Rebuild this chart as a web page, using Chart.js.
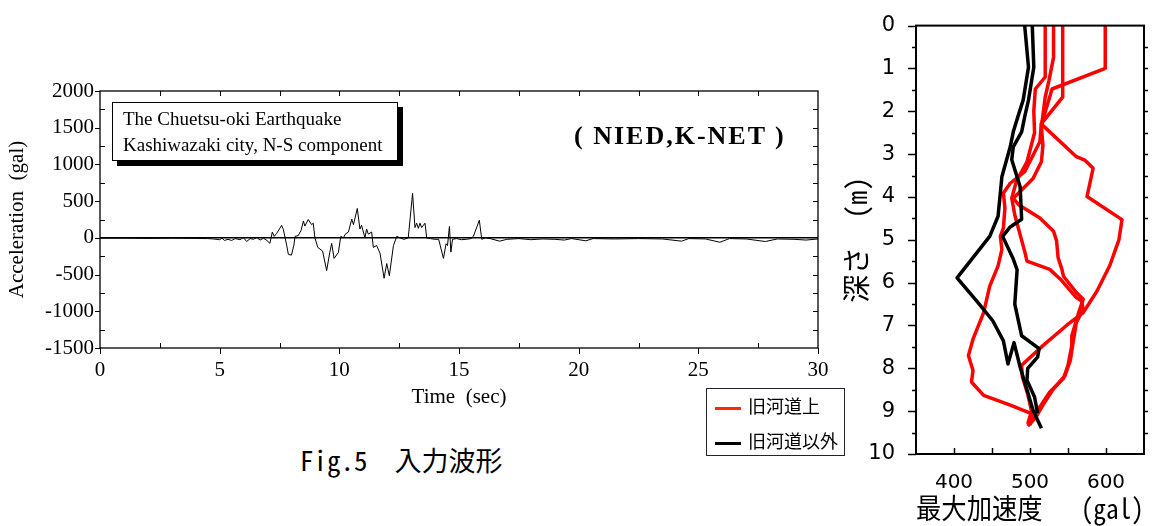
<!DOCTYPE html>
<html><head><meta charset="utf-8">
<script src="https://cdn.jsdelivr.net/npm/chart.js@4.4.1/dist/chart.umd.min.js"></script>
<style>
html,body{margin:0;padding:0;background:#fff;}
#page{position:relative;width:1168px;height:526px;overflow:hidden;background:#fff;}
#w1{position:absolute;left:0;top:0;width:845px;height:430px;}
#w2{position:absolute;left:840px;top:0;width:328px;height:526px;}
.note{position:absolute;left:112px;top:102px;width:286px;height:59px;border:1.5px solid #000;background:#fff;box-shadow:5px 5px 0 #000;font-family:"Liberation Serif","Times New Roman",serif;font-size:19px;line-height:26px;padding:3px 0 0 10px;box-sizing:border-box;color:#000;white-space:nowrap;}
.src{position:absolute;left:574px;top:121px;font-family:"Liberation Serif",serif;font-weight:bold;font-size:26px;letter-spacing:2px;color:#000;white-space:pre;}
.cap{position:absolute;left:300px;top:440px;font-family:"Noto Sans Mono CJK JP","Noto Sans CJK JP",monospace;font-size:27px;color:#000;white-space:pre;}
.leg{position:absolute;left:706px;top:388px;width:139px;height:68px;border:1px solid #223;box-sizing:border-box;font-family:"Noto Sans CJK JP",sans-serif;font-size:18px;color:#000;}
.leg .row{position:absolute;left:0;height:24px;line-height:24px;white-space:nowrap;}
.leg .sw{display:inline-block;width:26px;height:3px;margin:0 7px 0 8px;vertical-align:middle;}
</style></head>
<body><div id="page">
<div id="w1"><canvas id="c1"></canvas></div>
<div id="w2"><canvas id="c2"></canvas></div>
<div class="note">The Chuetsu-oki Earthquake<br>Kashiwazaki city, N-S component</div>
<div class="src">( NIED,K-NET )</div>
<div class="leg">
 <div class="row" style="top:4px"><span class="sw" style="background:#ff2a00"></span>旧河道上</div>
 <div class="row" style="top:39px"><span class="sw" style="background:#000"></span>旧河道以外</div>
</div>
<div class="cap">Fig.5　入力波形</div>
</div>
<script>
// ---- Left chart: input acceleration waveform ----
const timeSec = [0,1,2,3,4,4.5,4.73,5.0,5.1,5.2,5.35,5.5,5.65,5.85,5.99,6.13,6.27,6.41,6.55,6.69,6.83,6.97,7.1,7.2,7.28,7.38,7.59,7.66,7.8,7.87,8.0,8.1,8.15,8.28,8.4,8.5,8.56,8.7,8.84,8.91,8.98,9.1,9.3,9.47,9.6,9.68,9.78,9.96,10.06,10.17,10.25,10.38,10.52,10.59,10.75,10.86,10.93,11.07,11.14,11.21,11.35,11.42,11.56,11.7,11.87,11.98,12.09,12.26,12.4,12.54,12.7,12.88,13.06,13.16,13.23,13.3,13.37,13.44,13.58,13.65,13.8,14.0,14.15,14.35,14.46,14.52,14.6,14.66,14.73,14.9,15.1,15.3,15.5,15.6,15.85,15.95,16.1,16.3,16.7,17.0,17.5,18.0,18.5,19.0,19.4,19.7,20.3,20.6,21.5,22.5,23.5,24.3,24.6,25.3,25.9,26.3,27.0,27.8,28.3,29.0,29.5,30];
const accGal  = [-5,-5,-8,-5,-8,-10,-15,-25,-5,-35,-20,-35,-10,-25,5,-50,-10,-20,5,-30,-5,-35,-75,80,20,60,170,115,-100,-225,-235,-100,20,30,100,230,160,250,180,200,0,-130,-180,-445,-200,-75,-280,-200,20,0,50,80,255,180,400,120,170,0,120,50,80,-130,-105,-210,-550,-350,-515,-105,20,0,-20,0,605,140,200,130,200,140,200,0,-10,-20,-20,-280,-80,-105,155,-195,-20,-10,-25,-20,-10,20,240,-20,0,-10,-45,-20,-10,-25,-15,-20,-30,-10,-40,-10,-15,-10,-15,-45,-10,-15,-60,-10,-15,-50,-15,-20,-30,-15];
const timeTicks = [0,5,10,15,20,25,30];
const accTicks = [-1500,-1000,-500,0,500,1000,1500,2000];

// ---- Right chart: peak acceleration vs depth ([gal, m]) ----
const red1 = [[520,0],[520,1.2],[507,1.48],[505,2.0],[506,2.5],[496,3.18],[482,3.64],[476,4.03],[480,4.42],[487,4.88],[493,5.27],[496,5.5],[526,5.69],[540,5.92],[561,6.35],[568,6.43],[570,6.62],[561,6.93],[555,7.59],[553,7.82],[546,8.17],[530,8.5],[517,8.86],[507,9.16],[497,9.35]];
const red2 = [[531,0],[531,0.74],[525,1.28],[520,1.67],[515,2.37],[517,2.79],[515,3.18],[504,3.57],[487,3.87],[478,4.03],[485,4.18],[513,4.49],[531,4.8],[535,5.03],[537,5.42],[542,5.69],[544,5.85],[561,6.23],[570,6.39],[564,6.7],[555,7.24],[555,7.47],[550,7.93],[544,8.24],[526,8.55],[513,8.9],[504,9.1],[500,9.33]];
const red3 = [[543,0],[543,1.67],[515,2.29],[513,2.71],[493,3.41],[474,3.68],[465,3.91],[467,4.26],[465,4.73],[461,4.92],[463,5.23],[458,5.61],[447,6.08],[439,6.7],[425,7.32],[419,7.7],[425,8.05],[423,8.32],[439,8.63],[474,8.86],[502,9.06]];
const red4 = [[599,0],[599,1.0],[529,1.48],[522,1.9],[515,2.3],[561,3.06],[572,3.14],[583,3.33],[575,3.99],[621,4.53],[617,5.0],[605,5.6],[588,6.2],[570,6.7],[548,7.0],[517,7.47],[489,7.93],[490,8.2],[497,8.6],[502,9.0],[497,9.3]];
const black1 = [[493,0],[498,0.97],[491,1.74],[484,2.13],[478,2.48],[474,2.83],[463,3.53],[458,4.45],[447,4.92],[404,5.89],[430,6.43],[451,6.89],[465,7.36],[471,7.9],[479,7.4],[487,7.97],[496,8.5],[504,8.98],[515,9.4]];
const black2 = [[503,0],[505,0.97],[498,1.74],[493,2.13],[489,2.48],[478,2.83],[476,3.13],[487,3.76],[489,4.52],[474,4.7],[464,4.92],[478,5.45],[483,5.7],[480,6.5],[489,7.24],[512,7.54],[510,7.74],[497,8.0],[496,8.28],[506,8.67],[510,9.05]];
const peakTicks = [400,500,600];
const depthTicks = [0,1,2,3,4,5,6,7,8,9,10];

// frame + tick marks drawn through the chart's scales
const frameTicks = {
  id:'frameTicks',
  afterDatasetsDraw(chart, args, o){
    const {ctx, chartArea:a, scales} = chart;
    ctx.save();
    ctx.strokeStyle = '#000';
    ctx.lineWidth = o.tickWidth || 1;
    (o.marks||[]).forEach(m=>{
      const sc = scales[m.scale];
      m.values.forEach(v=>{
        const p = Math.round(sc.getPixelForValue(v))+0.5;
        ctx.beginPath();
        if(m.side==='bottom'){ctx.moveTo(p,a.bottom);ctx.lineTo(p,a.bottom+m.len);}
        if(m.side==='top'){ctx.moveTo(p,a.top);ctx.lineTo(p,a.top-m.len);}
        if(m.side==='left'){ctx.moveTo(a.left,p);ctx.lineTo(a.left-m.len,p);}
        if(m.side==='right'){ctx.moveTo(a.right,p);ctx.lineTo(a.right+m.len,p);}
        ctx.stroke();
      });
    });
    ctx.lineWidth = o.frameWidth || 1;
    ctx.strokeRect(a.left, a.top, a.right-a.left, a.bottom-a.top);
    ctx.restore();
  }
};

const serif = '"Liberation Serif","Times New Roman",serif';
const plain = v => String(v);

new Chart(document.getElementById('c1'), {
  type:'scatter',
  data:{datasets:[{
    data: timeSec.map((t,i)=>({x:t,y:accGal[i]})),
    showLine:true, borderColor:'#000', borderWidth:1, pointRadius:0, tension:0
  }]},
  options:{
    responsive:true, maintainAspectRatio:false, animation:false,
    layout:{padding:{left:0,top:91,right:27,bottom:0}},
    plugins:{legend:{display:false},tooltip:{enabled:false},
      frameTicks:{frameWidth:1.3,tickWidth:1,marks:[
        {scale:'x',side:'bottom',values:[0,5,10,15,20,25,30],len:6},
        {scale:'x',side:'bottom',values:[2.5,7.5,12.5,17.5,22.5,27.5],len:-5},
        {scale:'x',side:'top',values:[2.5,5,7.5,10,12.5,15,17.5,20,22.5,25,27.5],len:-5},
        {scale:'y',side:'left',values:[-1500,-1000,-500,0,500,1000,1500,2000],len:5},
        {scale:'y',side:'left',values:[-1250,-750,-250,250,750,1250,1750],len:-5},
        {scale:'y',side:'right',values:[-1250,-1000,-750,-500,-250,250,500,750,1000,1250,1500,1750],len:-5}
      ]}},
    scales:{
      x:{type:'linear',min:0,max:30,
        afterBuildTicks:s=>{s.ticks=timeTicks.map(v=>({value:v}));},
        afterFit:s=>{s.height=82;},
        border:{display:false},
        grid:{display:false},
        ticks:{color:'#000',font:{family:serif,size:21},padding:2,maxRotation:0,callback:plain},
        title:{display:true,text:'Time  (sec)',color:'#000',font:{family:serif,size:21},padding:{top:0,bottom:20}}
      },
      y:{type:'linear',min:-1500,max:2000,
        afterBuildTicks:s=>{s.ticks=accTicks.map(v=>({value:v}));},
        afterFit:s=>{s.width=100;},
        border:{display:false},
        grid:{drawTicks:false,color:c=>c.tick&&c.tick.value===0?'#000':'rgba(0,0,0,0)',lineWidth:1.5},
        ticks:{color:'#000',font:{family:serif,size:21},padding:6,callback:plain},
        title:{display:true,text:'Acceleration  (gal)',color:'#000',font:{family:serif,size:21},padding:{top:5,bottom:0}}
      }
    }
  },
  plugins:[frameTicks]
});

const mk = (arr,color)=>({data:arr.map(p=>({x:p[0],y:p[1]})),showLine:true,borderColor:color,borderWidth:3.5,pointRadius:0,tension:0,borderJoinStyle:'round',borderCapStyle:'butt'});
const sans = '"DejaVu Sans","Liberation Sans",sans-serif';
const cjk = '"Noto Sans Mono CJK JP","Noto Sans CJK JP",sans-serif';

new Chart(document.getElementById('c2'), {
  type:'scatter',
  data:{datasets:[mk(black1,'#000'),mk(black2,'#000'),mk(red1,'#ff0000'),mk(red2,'#ff0000'),mk(red3,'#ff0000'),mk(red4,'#ff0000')]},
  options:{
    responsive:true, maintainAspectRatio:false, animation:false,
    layout:{padding:{left:0,top:22,right:24,bottom:0}},
    plugins:{legend:{display:false},tooltip:{enabled:false},
      frameTicks:{frameWidth:2,tickWidth:1.5,marks:[
        {scale:'y',side:'left',values:[0,1,2,3,4,5,6,7,8,9,10],len:8},
        {scale:'y',side:'left',values:[0.5,1.5,2.5,3.5,4.5,5.5,6.5,7.5,8.5,9.5],len:4},
        {scale:'y',side:'right',values:[0.5,1,1.5,2,2.5,3,3.5,4,4.5,5,5.5,6,6.5,7,7.5,8,8.5,9,9.5],len:4},
        {scale:'x',side:'bottom',values:[400,450,500,550,600],len:-6}
      ]}},
    scales:{
      x:{type:'linear',min:350,max:650,
        afterBuildTicks:s=>{s.ticks=peakTicks.map(v=>({value:v}));},
        afterFit:s=>{s.height=72;},
        border:{display:false},grid:{display:false},
        ticks:{color:'#000',font:{family:sans,size:20},padding:9,maxRotation:0,callback:plain},
        title:{display:true,text:'最大加速度　 (gal)',color:'#000',font:{family:cjk,size:28},padding:{top:0,bottom:1}}
      },
      y:{type:'linear',min:0,max:10,reverse:true,
        afterBuildTicks:s=>{s.ticks=depthTicks.map(v=>({value:v}));},
        afterFit:s=>{s.width=76;},
        border:{display:false},grid:{display:false},
        ticks:{color:'#000',font:{family:sans,size:21},padding:13,callback:plain},
        title:{display:true,text:'深さ　(m)',color:'#000',font:{family:cjk,size:28},padding:{top:0,bottom:0}}
      }
    }
  },
  plugins:[frameTicks]
});
</script>
</body></html>
